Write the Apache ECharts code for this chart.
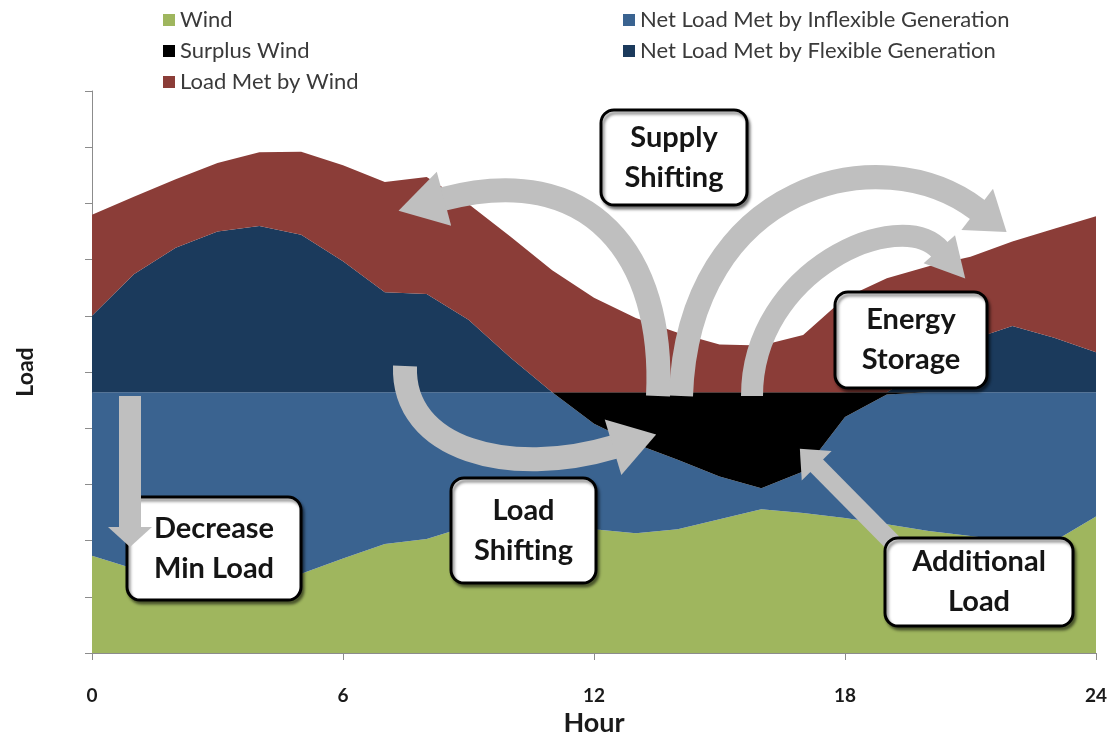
<!DOCTYPE html>
<html>
<head>
<meta charset="utf-8">
<script src="https://cdn.jsdelivr.net/npm/echarts@6/dist/echarts.min.js"></script>
<style>
html,body{margin:0;padding:0;background:#ffffff;}
#chart{width:1116px;height:742px;}
</style>
</head>
<body>
<div id="chart"></div>
<script>
// ---------------- data ----------------
const hours = ['0','1','2','3','4','5','6','7','8','9','10','11','12','13','14','15','16','17','18','19','20','21','22','23','24'];
const xTickLabels = ['0','6','12','18','24'];

const windValues       = [1.73,1.50,1.29,1.20,1.29,1.41,1.68,1.94,2.03,2.26,2.29,2.26,2.20,2.13,2.20,2.38,2.56,2.49,2.40,2.29,2.17,2.08,1.99,1.99,2.43];
const inflexibleValues = [2.91,3.14,3.35,3.44,3.35,3.23,2.96,2.70,2.61,2.38,2.35,2.38,1.88,1.59,1.24,0.76,0.37,0.74,1.80,2.31,2.47,2.56,2.65,2.65,2.21];
const surplusValues    = [0,0,0,0,0,0,0,0,0,0,0,0,0.56,0.92,1.20,1.50,1.71,1.41,0.44,0.04,0,0,0,0,0];
const flexibleValues   = [1.36,2.10,2.57,2.86,2.96,2.80,2.33,1.78,1.75,1.29,0.62,0,0,0,0,0,0,0,0,0,0.44,0.93,1.18,0.97,0.71];
const loadByWindValues = [1.80,1.38,1.22,1.22,1.31,1.48,1.71,1.96,2.08,2.06,2.15,2.17,1.68,1.32,1.06,0.85,0.83,1.02,1.68,2.03,1.80,1.48,1.50,1.94,2.42];

const seriesNames = ['Wind','Net Load Met by Inflexible Generation','Surplus Wind','Net Load Met by Flexible Generation','Load Met by Wind'];
const legendCol1 = ['Wind','Surplus Wind','Load Met by Wind'];
const legendCol2 = ['Net Load Met by Inflexible Generation','Net Load Met by Flexible Generation'];

// ---------------- styling ----------------
const COLORS = {
  'Wind':'#9FB65E',
  'Net Load Met by Inflexible Generation':'#3A6390',
  'Surplus Wind':'#000000',
  'Net Load Met by Flexible Generation':'#1B3A5C',
  'Load Met by Wind':'#8B3D38'
};
const GRAY = '#BFBFBF';
const FONT = 'Lato, "Open Sans", sans-serif';

const valuesByName = {
  'Wind': windValues,
  'Net Load Met by Inflexible Generation': inflexibleValues,
  'Surplus Wind': surplusValues,
  'Net Load Met by Flexible Generation': flexibleValues,
  'Load Met by Wind': loadByWindValues
};

const series = seriesNames.map(name => ({
  name: name,
  type: 'line',
  stack: 'total',
  symbol: 'none',
  showSymbol: false,
  smooth: false,
  color: COLORS[name],
  lineStyle: { width: 0, color: COLORS[name] },
  areaStyle: { color: COLORS[name], opacity: 1 },
  emphasis: { disabled: true },
  data: valuesByName[name]
}));

// ---------------- annotations (pixel overlay) ----------------
function headPoly(bx, by, dx, dy, len, half, z) {
  const n = Math.hypot(dx, dy); dx /= n; dy /= n;
  const px = -dy, py = dx;
  return { type:'polygon', z:z, silent:true,
    shape:{ points:[[bx - dx*1 + px*half, by - dy*1 + py*half],[bx + dx*len, by + dy*len],[bx - dx*1 - px*half, by - dy*1 - py*half]] },
    style:{ fill: GRAY } };
}
function curveArrow(p0, c1, c2, p3, width, len, half, z) {
  return [
    { type:'bezierCurve', z:z, silent:true,
      shape:{ x1:p0[0], y1:p0[1], cpx1:c1[0], cpy1:c1[1], cpx2:c2[0], cpy2:c2[1], x2:p3[0], y2:p3[1] },
      style:{ stroke: GRAY, lineWidth: width, fill: null, lineCap:'butt' } },
    headPoly(p3[0], p3[1], p3[0]-c2[0], p3[1]-c2[1], len, half, z)
  ];
}
function straightArrow(p0, p1, width, len, half, z) {
  return [
    { type:'line', z:z, silent:true,
      shape:{ x1:p0[0], y1:p0[1], x2:p1[0], y2:p1[1] },
      style:{ stroke: GRAY, lineWidth: width, lineCap:'butt' } },
    headPoly(p1[0], p1[1], p1[0]-p0[0], p1[1]-p0[1], len, half, z)
  ];
}
function box(x, y, w, h, text, z) {
  return [
    { type:'rect', z:z, silent:true,
      shape:{ x:x, y:y, width:w, height:h, r:13 },
      style:{ fill:'#ffffff', stroke:'#000000', lineWidth:3,
              shadowBlur:3, shadowOffsetX:2, shadowOffsetY:3, shadowColor:'rgba(0,0,0,0.45)' } },
    { type:'text', z:z+1, silent:true,
      x: x + w/2, y: y + h/2,
      style:{ text:text, font:'bold 29px ' + FONT, fill:'#151515',
              textAlign:'center', textVerticalAlign:'middle', align:'center', verticalAlign:'middle',
              lineHeight:40 } }
  ];
}

const graphics = [].concat(
  curveArrow([658,396],[665,255],[590,160],[443,199], 24, 46, 28, 100),
  curveArrow([681,396],[688,185],[880,135],[978,210], 24, 36, 26, 100),
  curveArrow([752,396],[752,270],[900,205],[940,250], 22, 38, 21, 100),
  curveArrow([405,366],[402,450],[510,478],[614,447], 24, 44, 29, 100),
  straightArrow([893,543],[816,465], 18, 23, 21, 100),
  box(601,110,146,95,'Supply\nShifting',110),
  box(835,292,152,96,'Energy\nStorage',110),
  box(451,478,145,105,'Load\nShifting',110),
  box(127,497,174,103,'Decrease\nMin Load',110),
  box(885,538,188,88,'Additional\nLoad',110),
  straightArrow([130,396],[130,528], 22, 19, 22, 120)
);

// ---------------- chart ----------------
const chart = echarts.init(document.getElementById('chart'), null, { renderer:'canvas' });
chart.setOption({
  animation: false,
  backgroundColor: '#ffffff',
  textStyle: { fontFamily: FONT },
  grid: { left: 92, right: 20, top: 91, bottom: 84, containLabel: false },
  legend: [
    { data: legendCol1, orient:'vertical', left:158, top:4, icon:'rect', itemWidth:12, itemHeight:12, itemGap:9,
      selectedMode:false, textStyle:{ fontSize:22, lineHeight:22, color:'#3a3a3a', fontFamily:FONT } },
    { data: legendCol2, orient:'vertical', left:618, top:4, icon:'rect', itemWidth:12, itemHeight:12, itemGap:9,
      selectedMode:false, textStyle:{ fontSize:22, lineHeight:22, color:'#3a3a3a', fontFamily:FONT } }
  ],
  xAxis: {
    type:'category', data: hours, boundaryGap:false,
    name:'Hour', nameLocation:'middle', nameGap:57,
    nameTextStyle:{ fontSize:27, fontWeight:'bold', color:'#1a1a1a', fontFamily:FONT },
    axisLine:{ show:true, lineStyle:{ color:'#8c8c8c', width:1 } },
    axisTick:{ show:true, length:7, interval:5, lineStyle:{ color:'#8c8c8c' } },
    axisLabel:{ margin:33, interval:5, fontSize:19, fontWeight:'bold', color:'#1a1a1a', fontFamily:FONT,
      formatter: v => (xTickLabels.indexOf(v) >= 0 ? v : '') },
    splitLine:{ show:false }
  },
  yAxis: {
    type:'value', min:0, max:10, interval:1,
    name:'Load', nameLocation:'middle', nameGap:55, nameRotate:90,
    nameTextStyle:{ fontSize:23, fontWeight:'bold', color:'#1a1a1a', fontFamily:FONT },
    axisLine:{ show:true, lineStyle:{ color:'#8c8c8c', width:1 } },
    axisTick:{ show:true, length:7, lineStyle:{ color:'#8c8c8c' } },
    axisLabel:{ show:false },
    splitLine:{ show:false }
  },
  series: series,
  graphic: { elements: graphics }
});
</script>
</body>
</html>
